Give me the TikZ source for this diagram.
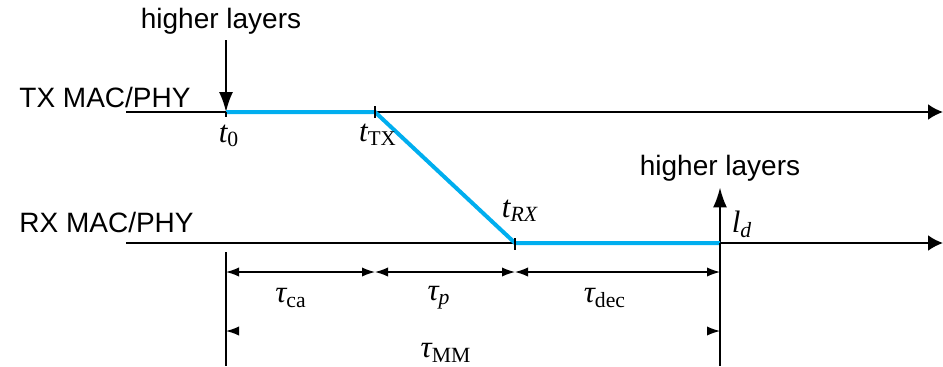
\documentclass[tikz,border=0pt]{standalone}
\usepackage{fontspec}
\setmainfont{Liberation Sans}
\newfontfamily\tms{Liberation Serif}
\usetikzlibrary{arrows.meta,positioning,calc}
\definecolor{msgblue}{HTML}{00AEEF}
% time labels: italic letter, subscript as given
\newcommand{\tlab}[2]{{\tms\itshape #1}\textsubscript{\tms #2}}

\begin{document}
\begin{tikzpicture}[
  x=0.5pt,y=-0.5pt,
  lbl/.style={font=\fontsize{14}{16}\selectfont,inner sep=3pt},
  tlbl/.style={font=\tms\fontsize{15.5}{17}\selectfont,inner sep=1pt},
  axis/.style={line width=1.1pt,-{Latex[length=7.5pt,width=8pt]}},
  layarr/.style={line width=1pt,-{Latex[length=10pt,width=7pt]}},
  msg/.style={msgblue,line width=2pt,line join=round},
  tick/.style={line width=0.6pt},
  dim/.style={line width=0.6pt,{Latex[length=6.5pt,width=4.6pt]}-{Latex[length=6.5pt,width=4.6pt]}},
  dimtip/.style={line width=0.6pt,-{Latex[length=6.5pt,width=4.6pt]}}]
\useasboundingbox (0,0) rectangle (943,366);
% time instants
\coordinate (txs) at (126,112);
\coordinate (txe) at (943,112);
\coordinate (rxs) at (126,243);
\coordinate (rxe) at (943,243);
\coordinate (t0) at (226,112);
\coordinate (ttx) at (375,112);
\coordinate (trx) at (515,243);
\coordinate (td) at (720,243);
\node[lbl,anchor=base west] (txlab) at (13,107) {TX MAC/PHY};
\node[lbl,anchor=base west] (rxlab) at (13,232) {RX MAC/PHY};
\node[lbl] (hltop) at (221,21) {higher layers};
\node[lbl] (hlbot) at (720,168) {higher layers};
\draw[axis] (txs) -- (txe);
\draw[axis] (rxs) -- (rxe);
\draw[layarr] (hltop.south -| t0) -- (t0);
\draw[layarr] (td) -- (hlbot.south -| td);
\draw[msg] (t0) -- (ttx) -- (trx) -- (td);
\draw[tick] (t0) -- ++(0,5);
\draw[tick] ($(ttx)+(0,-6)$) -- ++(0,12);
\draw[tick] ($(trx)+(0,-5)$) -- ++(0,12);
\node[tlbl] (lt0) at (229,136) {\tlab{t}{0}};
\node[tlbl] (lttx) at (378,135) {\tlab{t}{\fontsize{10.5}{12}\selectfont TX}};
\node[tlbl] (ltrx) at (520,211) {\tlab{t}{\itshape RX}};
\node[tlbl] (ltd) at (742,224) {\tlab{l}{\itshape d}};
% durations
\coordinate (v0a) at (226,252);
\coordinate (v0b) at (226,366);
\coordinate (vdb) at (720,366);
\draw[tick] (v0a) -- (v0b);
\draw[tick] (td) -- (vdb);
\coordinate (d0) at (226,272);
\coordinate (d1) at (375,272);
\coordinate (d2) at (515,272);
\coordinate (d3) at (720,272);
\draw[dim] (d0) -- (d1);
\draw[dim] (d1) -- (d2);
\draw[dim] (d2) -- (d3);
\node[tlbl] (tca) at (291,298) {\tlab{τ}{ca}};
\node[tlbl] (tp) at (439,298) {\tlab{τ}{\itshape p}};
\node[tlbl] (tdec) at (605,298) {\tlab{τ}{dec}};
\coordinate (m0) at (226,331);
\coordinate (m0i) at (239,331);
\coordinate (m1) at (720,331);
\coordinate (m1i) at (707,331);
\draw[dimtip] (m0i) -- (m0);
\draw[dimtip] (m1i) -- (m1);
\node[tlbl] (tmm) at (446,353) {\tlab{τ}{MM}};
\end{tikzpicture}
\end{document}
